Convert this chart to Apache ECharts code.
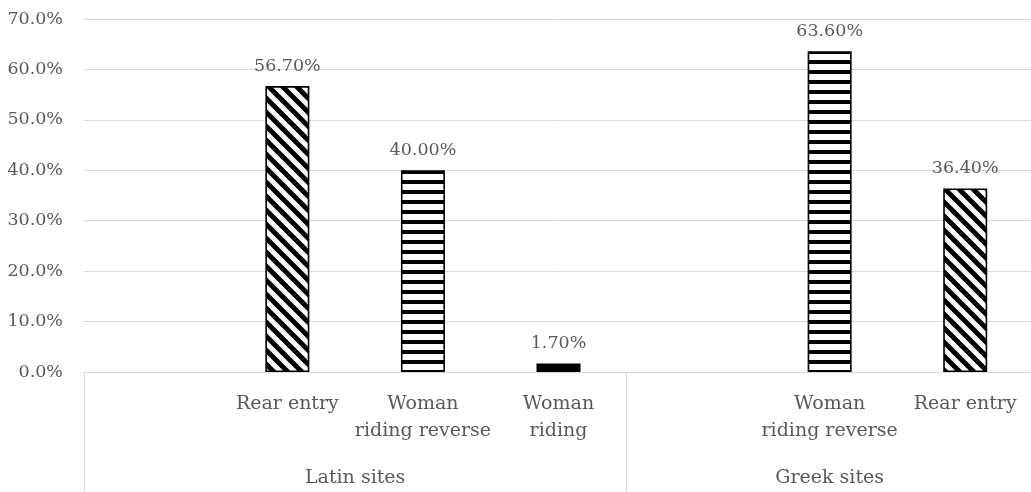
<!DOCTYPE html>
<html>
<head>
<meta charset="utf-8">
<script src="https://cdn.jsdelivr.net/npm/echarts@6/dist/echarts.min.js"></script>
<style>
  html, body { margin: 0; padding: 0; overflow: hidden; background: #fff; }
  #chart { width: 1036px; height: 492px; }
</style>
</head>
<body>
<div id="chart"></div>
<script>
// Sub-categories along the axis (blank slots pad the two site groups)
const categories = ['', 'Rear entry', 'Woman\nriding reverse', 'Woman\nriding', '', 'Woman\nriding reverse', 'Rear entry'];
// Share of depictions, in percent
const values = [null, 56.7, 40.0, 1.7, null, 63.6, 36.4];
// Fill style of each bar
const fills = ['', 'diagonal', 'horizontal', 'solid', '', 'horizontal', 'diagonal'];
// Outer groups and how many slots each covers
const groups = ['Latin sites', 'Greek sites'];
const groupSpans = [4, 3];
// Value-axis ticks
const yTicks = [0, 10, 20, 30, 40, 50, 60, 70];

const FONT = 'DejaVu Serif';
const TEXT = '#595959';
const GRID = '#d9d9d9';

function diagonalTile() {
  const p = 14;
  const c = document.createElement('canvas');
  c.width = p; c.height = p;
  const g = c.getContext('2d');
  g.fillStyle = '#fff';
  g.fillRect(0, 0, p, p);
  g.strokeStyle = '#000';
  g.lineWidth = 5;
  for (let k = -1; k <= 1; k++) {
    g.beginPath();
    g.moveTo(k * p - 2, -2);
    g.lineTo(k * p + p + 2, p + 2);
    g.stroke();
  }
  return c;
}
function horizontalTile() {
  const c = document.createElement('canvas');
  c.width = 10; c.height = 10;
  const g = c.getContext('2d');
  g.fillStyle = '#fff';
  g.fillRect(0, 0, 10, 10);
  g.fillStyle = '#000';
  g.fillRect(0, 0, 10, 4);
  return c;
}
const paints = {
  diagonal: { image: diagonalTile(), repeat: 'repeat' },
  horizontal: { image: horizontalTile(), repeat: 'repeat' },
  solid: '#000'
};

const barData = values.map((v, i) => v == null ? null : {
  value: v,
  itemStyle: { color: paints[fills[i]], borderColor: '#000', borderWidth: 1.6 }
});

// Boundaries between groups, and the centre of each group in slot units
const bounds = [0];
groupSpans.forEach(s => bounds.push(bounds[bounds.length - 1] + s));
const groupCentres = groupSpans.map((s, i) => bounds[i] + s / 2);

const chart = echarts.init(document.getElementById('chart'), null, { renderer: 'canvas' });
chart.setOption({
  animation: false,
  backgroundColor: '#fff',
  grid: { left: 84, right: 0, top: 19, bottom: 119, containLabel: false },
  xAxis: [
    {
      type: 'category',
      data: categories,
      boundaryGap: true,
      axisLine: { show: true, lineStyle: { color: GRID, width: 1 } },
      axisTick: {
        show: true,
        length: 120,
        interval: (idx) => bounds.indexOf(idx) !== -1,
        lineStyle: { color: GRID, width: 1 }
      },
      axisLabel: {
        interval: 0,
        margin: 19,
        color: TEXT,
        fontFamily: FONT,
        fontSize: 19,
        lineHeight: 27,
        align: 'center'
      }
    },
    {
      type: 'value',
      position: 'bottom',
      min: 0,
      max: bounds[bounds.length - 1],
      interval: 0.5,
      offset: 84,
      axisLine: { show: false },
      axisTick: { show: false },
      splitLine: { show: false },
      axisLabel: {
        margin: 9,
        color: TEXT,
        fontFamily: FONT,
        fontSize: 19,
        lineHeight: 27,
        showMinLabel: true,
        showMaxLabel: true,
        formatter: (v) => {
          const i = groupCentres.findIndex(c => Math.abs(c - v) < 1e-6);
          return i >= 0 ? groups[i] : '';
        }
      }
    }
  ],
  yAxis: {
    type: 'value',
    min: yTicks[0],
    max: yTicks[yTicks.length - 1],
    interval: yTicks[1] - yTicks[0],
    axisLine: { show: false },
    axisTick: { show: false },
    splitLine: { show: true, lineStyle: { color: GRID, width: 1 } },
    axisLabel: {
      margin: 21,
      color: TEXT,
      fontFamily: FONT,
      fontSize: 17.5,
      formatter: (v) => v.toFixed(1) + '%'
    }
  },
  series: [{
    type: 'bar',
    xAxisIndex: 0,
    data: barData,
    barWidth: 44,
    label: {
      show: true,
      position: 'top',
      distance: 11,
      color: TEXT,
      fontFamily: FONT,
      fontSize: 17.5,
      formatter: (p) => p.value.toFixed(2) + '%'
    }
  }]
});
</script>
</body>
</html>
